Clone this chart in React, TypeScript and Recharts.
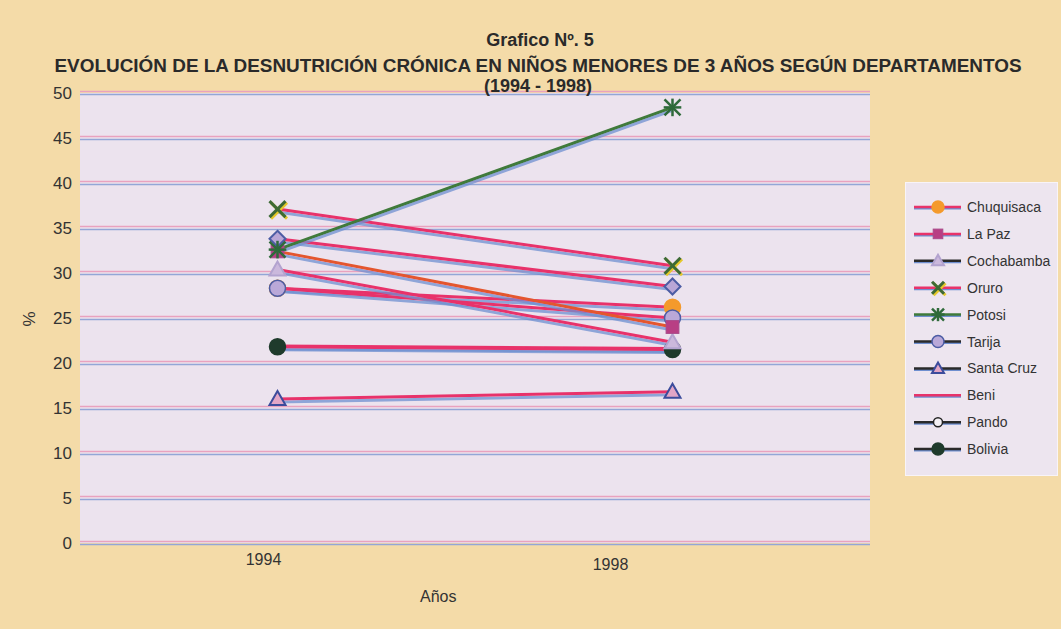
import React from 'react';
import { LineChart, Line, XAxis, YAxis, CartesianGrid } from 'recharts';

// años del eje X
const years = [1994, 1998];
const yTicks = [0, 5, 10, 15, 20, 25, 30, 35, 40, 45, 50];

// % desnutrición crónica por departamento
const chuquisaca = [28.3, 26.2];
const laPaz = [32.4, 24.0];
const cochabamba = [30.4, 22.3];
const oruro = [37.1, 30.8];
const potosi = [32.6, 48.4];
const tarija = [28.3, 25.0];
const santaCruz = [16.0, 16.8];
const beni = [21.9, 21.6];
const pando = [33.8, 28.5];
const bolivia = [21.8, 21.5];

type Marker = 'circle' | 'square' | 'triangle' | 'x' | 'star' | 'diamond' | 'none' | 'open';

type Serie = {
  name: string;
  values: number[];
  color: string;
  legendColor: string;
  marker: Marker;
  legendMarker: Marker;
  fill: string;
  stroke: string;
};

const series: Serie[] = [
  { name: 'Chuquisaca', values: chuquisaca, color: '#e8336a', legendColor: '#e8336a', marker: 'circle', legendMarker: 'circle', fill: '#f49a2c', stroke: '#f49a2c' },
  { name: 'La Paz', values: laPaz, color: '#e4572f', legendColor: '#e8336a', marker: 'square', legendMarker: 'square', fill: '#b83f84', stroke: '#a94a8a' },
  { name: 'Cochabamba', values: cochabamba, color: '#e8336a', legendColor: '#2a2a2a', marker: 'triangle', legendMarker: 'triangle', fill: '#cbb8dc', stroke: '#b3a3cf' },
  { name: 'Oruro', values: oruro, color: '#e8336a', legendColor: '#e8336a', marker: 'x', legendMarker: 'x', fill: 'none', stroke: '#3d6a35' },
  { name: 'Potosi', values: potosi, color: '#3f7a3a', legendColor: '#3f7a3a', marker: 'star', legendMarker: 'star', fill: 'none', stroke: '#2f6a3a' },
  { name: 'Tarija', values: tarija, color: '#e8336a', legendColor: '#2a2a2a', marker: 'circle', legendMarker: 'circle', fill: '#b9a8d8', stroke: '#4c5ca4' },
  { name: 'Santa Cruz', values: santaCruz, color: '#e8336a', legendColor: '#2a2a2a', marker: 'triangle', legendMarker: 'triangle', fill: '#e2a6c6', stroke: '#3c4c9c' },
  { name: 'Beni', values: beni, color: '#e8336a', legendColor: '#e8336a', marker: 'none', legendMarker: 'none', fill: 'none', stroke: 'none' },
  { name: 'Pando', values: pando, color: '#e8336a', legendColor: '#2a2a2a', marker: 'diamond', legendMarker: 'open', fill: '#b9a6d6', stroke: '#4c5ca4' },
  { name: 'Bolivia', values: bolivia, color: '#e8336a', legendColor: '#2a2a2a', marker: 'circle', legendMarker: 'circle', fill: '#1f3b2c', stroke: '#1f3b2c' },
];

// orden de dibujo (los últimos quedan encima)
const drawOrder = ['Beni', 'Bolivia', 'Santa Cruz', 'Chuquisaca', 'Tarija', 'Cochabamba', 'La Paz', 'Pando', 'Oruro', 'Potosi'];

const rows = years.map((year, i) => {
  const row: Record<string, number> = { year };
  series.forEach((s) => {
    row[s.name] = s.values[i];
  });
  return row;
});

function drawMarker(kind: Marker, cx: number, cy: number, fill: string, stroke: string, size = 1) {
  const r = 8 * size;
  switch (kind) {
    case 'circle':
      return <circle cx={cx} cy={cy} r={r} fill={fill} stroke={stroke} strokeWidth={1.5} />;
    case 'open':
      return <circle cx={cx} cy={cy} r={r * 0.75} fill="#f4f0f4" stroke="#222" strokeWidth={1.5} />;
    case 'square':
      return <rect x={cx - r * 0.8} y={cy - r * 0.8} width={r * 1.6} height={r * 1.6} fill={fill} stroke={stroke} />;
    case 'triangle':
      return (
        <polygon
          points={`${cx},${cy - r} ${cx - r},${cy + r * 0.75} ${cx + r},${cy + r * 0.75}`}
          fill={fill}
          stroke={stroke}
          strokeWidth={2}
        />
      );
    case 'diamond':
      return (
        <polygon
          points={`${cx},${cy - r} ${cx + r},${cy} ${cx},${cy + r} ${cx - r},${cy}`}
          fill={fill}
          stroke={stroke}
          strokeWidth={2}
        />
      );
    case 'x':
      return (
        <g stroke={stroke} strokeWidth={3}>
          <line x1={cx - r} y1={cy - r} x2={cx + r} y2={cy + r} stroke="#e6c82a" transform="translate(1.5,1.5)" />
          <line x1={cx + r} y1={cy - r} x2={cx - r} y2={cy + r} stroke="#e6c82a" transform="translate(1.5,1.5)" />
          <line x1={cx - r} y1={cy - r} x2={cx + r} y2={cy + r} />
          <line x1={cx + r} y1={cy - r} x2={cx - r} y2={cy + r} />
        </g>
      );
    case 'star':
      return (
        <g stroke={stroke} strokeWidth={2.5}>
          <line x1={cx - r} y1={cy - r} x2={cx + r} y2={cy + r} />
          <line x1={cx + r} y1={cy - r} x2={cx - r} y2={cy + r} />
          <line x1={cx} y1={cy - r * 1.1} x2={cx} y2={cy + r * 1.1} />
          <line x1={cx - r * 1.1} y1={cy} x2={cx + r * 1.1} y2={cy} />
        </g>
      );
    default:
      return null;
  }
}

const makeDot = (s: Serie) => (props: any) => {
  const { cx, cy, index } = props;
  if (cx == null || cy == null || s.marker === 'none') return <g key={`${s.name}-${index}`} />;
  return <g key={`${s.name}-${index}`}>{drawMarker(s.marker, cx, cy, s.fill, s.stroke)}</g>;
};

// doble línea (rosa/azul) como en la impresión
const gridLine = (props: any) => {
  const { x1, x2, y1, index } = props;
  return (
    <g key={`g-${index}`}>
      <line x1={x1} x2={x2} y1={y1 - 1.5} y2={y1 - 1.5} stroke="#e9a2bf" strokeWidth={1.3} />
      <line x1={x1} x2={x2} y1={y1 + 1.5} y2={y1 + 1.5} stroke="#93a6d6" strokeWidth={1.3} />
    </g>
  );
};

const shiftX = [-14, -62];
const XTick = (props: any) => {
  const { x, y, payload, index } = props;
  return (
    <text x={x + shiftX[index]} y={y + 14 + index * 5} textAnchor="middle" fontSize={16} fill="#333">
      {payload.value}
    </text>
  );
};

export default function App() {
  const ordered = drawOrder.map((n) => series.find((s) => s.name === n)!);
  return (
    <div style={{ position: 'relative', width: 1061, height: 629, background: '#f4dba8', fontFamily: 'Arial, "Liberation Sans", sans-serif' }}>
      <style>{`body{margin:0} .recharts-line-curve{filter:url(#misreg)}`}</style>
      <svg width={0} height={0} style={{ position: 'absolute' }}>
        <defs>
          <filter id="misreg" filterUnits="userSpaceOnUse" x={0} y={0} width={1061} height={629}>
            <feOffset in="SourceAlpha" dx={0} dy={2.5} result="off" />
            <feFlood floodColor="#6f8fd0" floodOpacity={0.75} />
            <feComposite in2="off" operator="in" result="shadow" />
            <feMerge>
              <feMergeNode in="shadow" />
              <feMergeNode in="SourceGraphic" />
            </feMerge>
          </filter>
        </defs>
      </svg>

      <LineChart width={1061} height={629} data={rows} margin={{ top: 93, right: 191, bottom: 26, left: 8 }}>
        <CartesianGrid fill="#ece3ee" vertical={false} horizontal={gridLine} />
        <XAxis
          dataKey="year"
          type="number"
          domain={[1992, 2000]}
          ticks={years}
          axisLine={false}
          tickLine={false}
          height={60}
          tick={<XTick />}
        />
        <YAxis
          domain={[0, 50]}
          ticks={yTicks}
          width={72}
          axisLine={false}
          tickLine={false}
          tick={{ fontSize: 17, fill: '#333' }}
        />
        {ordered.map((s) => (
          <Line
            key={s.name}
            dataKey={s.name}
            stroke={s.color}
            strokeWidth={3}
            dot={makeDot(s)}
            activeDot={false}
            isAnimationActive={false}
          />
        ))}
      </LineChart>

      <svg width={1061} height={110} style={{ position: 'absolute', left: 0, top: 0, pointerEvents: 'none' }}>
        <g fontWeight="bold" fontSize={18} fill="#2a2a2a" textAnchor="middle">
          <text x={540} y={46}>Grafico Nº. 5</text>
          <text x={538} y={72} textLength={967} lengthAdjust="spacingAndGlyphs">
            EVOLUCIÓN DE LA DESNUTRICIÓN CRÓNICA EN NIÑOS MENORES DE 3 AÑOS SEGÚN DEPARTAMENTOS
          </text>
          <text x={538} y={92}>(1994 - 1998)</text>
        </g>
      </svg>

      <div style={{ position: 'absolute', left: 22, top: 309, fontSize: 17, color: '#333', transform: 'rotate(-90deg)' }}>%</div>
      <div style={{ position: 'absolute', left: 420, top: 588, fontSize: 16, color: '#333' }}>Años</div>

      <div
        style={{
          position: 'absolute',
          left: 905,
          top: 182,
          width: 153,
          height: 294,
          background: '#ede5ef',
          border: '1px solid #f8f4f8',
          boxSizing: 'border-box',
        }}
      >
        <svg width={153} height={294}>
          {series.map((s, i) => {
            const y = 24 + i * 26.9;
            return (
              <g key={s.name}>
                <line x1={8} x2={55} y1={y + 1.5} y2={y + 1.5} stroke="#6f8fd0" strokeWidth={2} />
                <line x1={8} x2={55} y1={y} y2={y} stroke={s.legendColor} strokeWidth={2.5} />
                {drawMarker(s.legendMarker, 32, y, s.fill, s.stroke, 0.75)}
                <text x={61} y={y + 5} fontSize={14} fill="#333">
                  {s.name}
                </text>
              </g>
            );
          })}
        </svg>
      </div>
    </div>
  );
}
